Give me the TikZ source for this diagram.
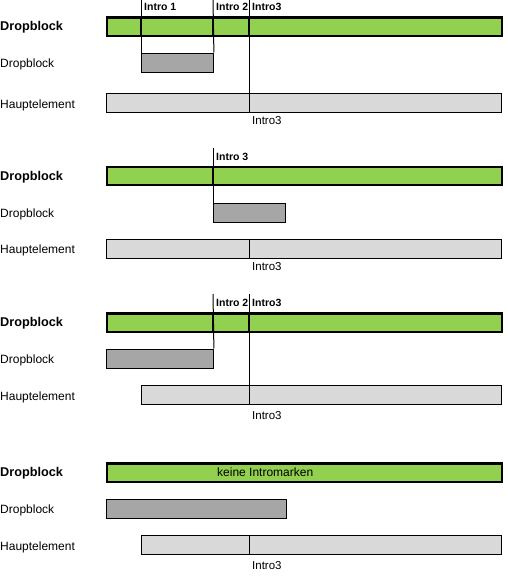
\documentclass[tikz,border=0pt]{standalone}
\usepackage{fontspec}
\setmainfont{Liberation Sans}
\usetikzlibrary{calc,positioning}
\definecolor{barGreen}{HTML}{92D050}
\definecolor{dropGray}{HTML}{A6A6A6}
\definecolor{mainGray}{HTML}{D9D9D9}
\tikzstyle{greenbar} = [rectangle, draw=black, line width=2.4pt, fill=barGreen, anchor=north west, inner sep=0pt, minimum height=18.5pt]
\tikzstyle{dropbox} = [rectangle, draw=black, line width=0.9pt, fill=dropGray, anchor=north west, inner sep=0pt, minimum height=19pt]
\tikzstyle{mainbar} = [rectangle, draw=black, line width=0.9pt, fill=mainGray, anchor=north west, inner sep=0pt, minimum height=19pt]
\tikzstyle{headlabel} = [anchor=base west, inner sep=0pt, font=\bfseries\fontsize{12.7}{14}\selectfont]
\tikzstyle{rowlabel} = [anchor=base west, inner sep=0pt, font=\fontsize{12}{14}\selectfont]
\tikzstyle{intromark} = [anchor=base west, inner sep=0pt, font=\bfseries\fontsize{10.5}{12}\selectfont]
\tikzstyle{introname} = [anchor=base west, inner sep=0pt, font=\fontsize{11.5}{13}\selectfont]
\tikzstyle{marker} = [line width=1pt]
\tikzstyle{markerthick} = [line width=2pt]
\begin{document}
\begin{tikzpicture}[x=1pt,y=-1pt]
	\useasboundingbox (0,0) rectangle (507,576);

	%% Case 1: three intro marks, drop inside
	\node[headlabel] (l1a) at (0,30.5) {Dropblock};
	\node[rowlabel] (l1b) at (0,67.7) {Dropblock};
	\node[rowlabel] (l1c) at (0,108.3) {Hauptelement};

	\node[greenbar, minimum width=394.5pt] (g1) at (106,16.2) {};
	\node[dropbox, minimum width=72pt] (d1) at (141,52.5) {};
	\node[mainbar, minimum width=395.5pt] (h1) at (105.5,92.5) {};

	\coordinate (m1a) at (141,0); % Intro 1
	\coordinate (m1b) at (213,0); % Intro 2
	\coordinate (m1c) at (249,0); % Intro3
	\draw[marker] (m1a) -- (d1.north west);
	\draw[marker] (m1b) -- (d1.north east);
	\draw[marker] (m1c) -- (m1c |- h1.south);
	\draw[markerthick] (m1a |- g1.north) -- (m1a |- g1.south);
	\draw[markerthick] (m1b |- g1.north) -- (m1b |- g1.south);
	\draw[markerthick] (m1c |- g1.north) -- (m1c |- g1.south);

	\node[intromark] (i1a) at (144,10.5) {Intro 1};
	\node[intromark] (i1b) at (216,10.5) {Intro 2};
	\node[intromark] (i1c) at (252,10.5) {Intro3};
	\node[introname] (n1) at (252,124.5) {Intro3};

	%% Case 2: one intro mark
	\node[headlabel] (l2a) at (0,180) {Dropblock};
	\node[rowlabel] (l2b) at (0,217.3) {Dropblock};
	\node[rowlabel] (l2c) at (0,253.5) {Hauptelement};

	\node[greenbar, minimum width=394.5pt] (g2) at (106,165.5) {};
	\node[dropbox, minimum width=72pt] (d2) at (213,202.5) {};
	\node[mainbar, minimum width=395.5pt] (h2) at (105.5,238.5) {};

	\coordinate (m2a) at (213,148); % Intro 3
	\coordinate (c2) at (249,238.5);
	\draw[marker] (m2a) -- (d2.north west);
	\draw[markerthick] (m2a |- g2.north) -- (m2a |- g2.south);
	\draw[marker] (c2) -- (c2 |- h2.south);

	\node[intromark] (i2a) at (216,160.7) {Intro 3};
	\node[introname] (n2) at (252,270) {Intro3};

	%% Case 3: two intro marks, drop before
	\node[headlabel] (l3a) at (0,326) {Dropblock};
	\node[rowlabel] (l3b) at (0,363.3) {Dropblock};
	\node[rowlabel] (l3c) at (0,400) {Hauptelement};

	\node[greenbar, minimum width=394.5pt] (g3) at (106,312.2) {};
	\node[dropbox, minimum width=107.5pt] (d3) at (105.5,348.5) {};
	\node[mainbar, minimum width=360pt] (h3) at (141,384.5) {};

	\coordinate (m3a) at (213,294); % Intro 2
	\coordinate (m3b) at (249,294); % Intro3
	\draw[marker] (m3a) -- (d3.north east);
	\draw[marker] (m3b) -- (m3b |- h3.south);
	\draw[markerthick] (m3a |- g3.north) -- (m3a |- g3.south);
	\draw[markerthick] (m3b |- g3.north) -- (m3b |- g3.south);

	\node[intromark] (i3a) at (216,306.7) {Intro 2};
	\node[intromark] (i3b) at (252,306.7) {Intro3};
	\node[introname] (n3) at (252,419.3) {Intro3};

	%% Case 4: no intro marks
	\node[headlabel] (l4a) at (0,476) {Dropblock};
	\node[rowlabel] (l4b) at (0,513.3) {Dropblock};
	\node[rowlabel] (l4c) at (0,550) {Hauptelement};

	\node[greenbar, minimum width=394.5pt] (g4) at (106,462.2) {};
	\node[rowlabel] (t4) at (217,476.7) {keine Intromarken};
	\node[dropbox, minimum width=180pt] (d4) at (105.5,498.5) {};
	\node[mainbar, minimum width=360pt] (h4) at (141,534.5) {};

	\coordinate (c4) at (249,534.5);
	\draw[marker] (c4) -- (c4 |- h4.south);

	\node[introname] (n4) at (252,569.3) {Intro3};
\end{tikzpicture}
\end{document}
